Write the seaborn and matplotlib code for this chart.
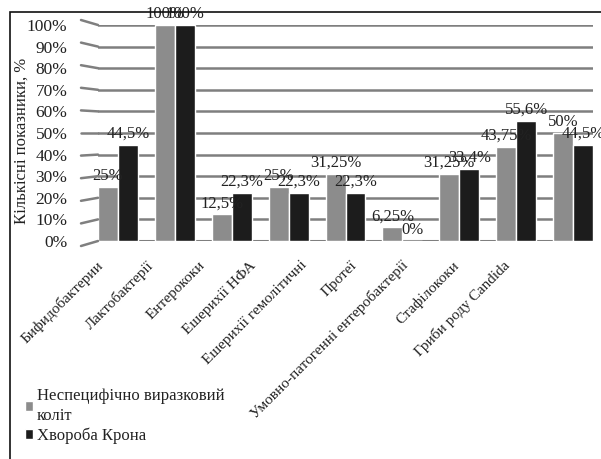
import matplotlib
matplotlib.use("Agg")
import matplotlib.pyplot as plt
import matplotlib.transforms as mtransforms
from matplotlib.patches import Rectangle
from matplotlib.lines import Line2D
import seaborn as sns
import pandas as pd

categories = ["Бифидобактерии", "Лактобактерії", "Ентерококи", "Ешерихії НФА",
              "Ешерихії гемолітичні", "Протеї", "Умовно-патогенні ентеробактерії",
              "Стафілококи", "Гриби роду Candida"]
series_names = ["Неспецифічно виразковий\nколіт", "Хвороба Крона"]
nvk_values = [25, 100, 12.5, 25, 31.25, 6.25, 31.25, 43.75, 50]
crohn_values = [44.5, 100, 22.3, 22.3, 22.3, 0, 33.4, 55.6, 44.5]
nvk_labels = ["25%", "100%", "12,5%", "25%", "31,25%", "6,25%", "31,25%", "43,75%", "50%"]
crohn_labels = ["44,5%", "100%", "22,3%", "22,3%", "22,3%", "0%", "33,4%", "55,6%", "44,5%"]
y_ticks = [0, 10, 20, 30, 40, 50, 60, 70, 80, 90, 100]
y_tick_labels = ["0%", "10%", "20%", "30%", "40%", "50%", "60%", "70%", "80%", "90%", "100%"]

df = pd.DataFrame({
    "category": categories * 2,
    "value": nvk_values + crohn_values,
    "series": [series_names[0]] * len(categories) + [series_names[1]] * len(categories),
})

sns.set_theme(style="white")
plt.rcParams["font.family"] = ["Liberation Serif", "DejaVu Serif"]

W, H = 601, 459
fig = plt.figure(figsize=(W / 100, H / 100), dpi=100)
ax = fig.add_axes([98 / W, 1 - 241 / H, (593 - 98) / W, 216 / H])

sns.barplot(data=df, x="category", y="value", hue="series", order=categories,
            hue_order=series_names, palette=["#8c8c8c", "#1c1c1c"],
            width=0.7, gap=0, saturation=1, ax=ax, zorder=3, legend=True)

for cont, labs in zip(ax.containers, [nvk_labels, crohn_labels]):
    ax.bar_label(cont, labels=labs, padding=2, fontsize=12, color="#222222", zorder=4)

ax.set_ylim(0, 100)
ax.set_xlim(-0.35, 8.35)
ax.set_yticks(y_ticks)
ax.set_yticklabels(y_tick_labels, fontsize=12.5, color="#222222")
ax.tick_params(axis="y", length=0, pad=22)
ax.tick_params(axis="x", length=0, pad=6)
for s in ax.spines.values():
    s.set_visible(False)

# gridlines with 3D-like left wall slant
for t in y_ticks:
    ax.axhline(t, color="#7f7f7f", lw=2.2 if t == 0 else 1.8, zorder=1)
    frac = t / 100
    dy = (5 - 10 * frac)  # pixels
    x0, y0 = ax.transAxes.transform((0, 0))
    yr = ax.transData.transform((0, t))[1]
    ln = Line2D([x0 - 17, x0], [yr - dy, yr], transform=None, color="#7f7f7f",
                lw=1.8, clip_on=False, zorder=1)
    fig.add_artist(ln)

ax.set_xlabel("")
ax.set_ylabel("Кількісні показники, %", fontsize=12, color="#222222")
ax.yaxis.set_label_coords(-0.138, 0.463)

for i, lab in enumerate(ax.get_xticklabels()):
    lab.set_rotation(45)
    lab.set_ha("right")
    lab.set_va("center")
    lab.set_rotation_mode("anchor")
    lab.set_fontsize(11)
    lab.set_color("#222222")
    off = mtransforms.ScaledTranslation((-17 - 6.0 * i) / 100, -14 / 100, fig.dpi_scale_trans)
    lab.set_transform(lab.get_transform() + off)

leg = ax.legend(loc="upper left", bbox_to_anchor=(25 / W, 1 - 388 / H),
                bbox_transform=fig.transFigure, frameon=False, fontsize=12,
                handlelength=0.5, handleheight=0.5, handletextpad=0.2,
                labelspacing=0.2, borderaxespad=0, borderpad=0)
for t in leg.get_texts():
    t.set_color("#222222")
    t.set_linespacing(1.35)

fig.add_artist(Rectangle((10 / W, -0.05), 1.1, 1 - 12 / H + 0.05, transform=fig.transFigure,
                         fill=False, ec="#111111", lw=1.2, clip_on=False))

fig.savefig("out.png", dpi=100)
